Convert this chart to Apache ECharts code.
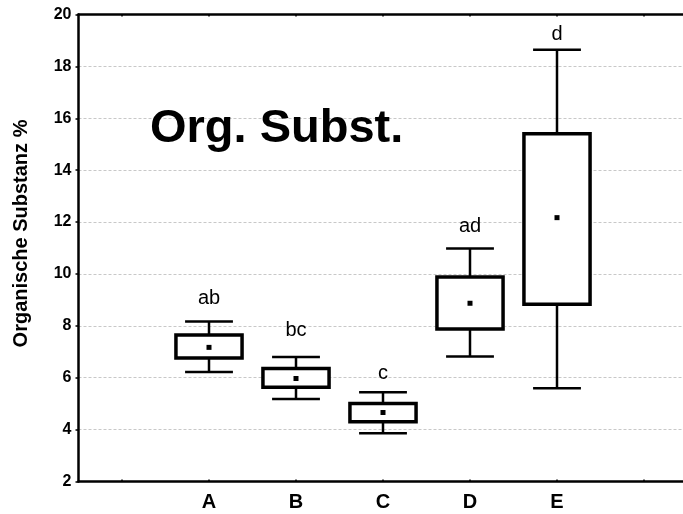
<!DOCTYPE html>
<html>
<head>
<meta charset="utf-8">
<title>Organische Substanz</title>
<script src="https://cdn.jsdelivr.net/npm/echarts@6/dist/echarts.min.js"></script>
<style>
  html, body { margin: 0; padding: 0; background: #fff; }
  #chart { width: 683px; height: 514px; }
</style>
</head>
<body>
<div id="chart"></div>
<script>
// Category slots on the x axis (empty slots pad both ends of the plot)
const categories = ['', 'A', 'B', 'C', 'D', 'E', ''];
// Groups and their statistics (Organische Substanz %)
const groups = ['A', 'B', 'C', 'D', 'E'];
const whiskerLow = [6.22, 5.18, 3.86, 6.82, 5.59];
const boxLow = [6.76, 5.63, 4.30, 7.88, 8.83];
const means = [7.17, 5.97, 4.66, 8.87, 12.17];
const boxHigh = [7.65, 6.36, 5.01, 9.88, 15.40];
const whiskerHigh = [8.17, 6.80, 5.44, 10.98, 18.64];
// Significance letters and the level their baseline sits at
const letters = ['ab', 'bc', 'c', 'ad', 'd'];
const letterAt = [8.77, 7.55, 5.88, 11.57, 18.96];
// Y axis ticks
const yMin = 2, yMax = 20, yStep = 2;

const FONT = '"Liberation Sans", Arial, Helvetica, sans-serif';

const seriesData = groups.map((g, i) => [g, whiskerLow[i], boxLow[i], means[i], boxHigh[i], whiskerHigh[i], letterAt[i]]);

function renderBox(params, api) {
  const i = params.dataIndex;
  const cat = api.value(0);
  const band = api.size([1, 0])[0];
  const boxW = band * 0.76;
  const capW = band * 0.55;
  const pLow = api.coord([cat, api.value(1)]);
  const pQ1 = api.coord([cat, api.value(2)]);
  const pMean = api.coord([cat, api.value(3)]);
  const pQ3 = api.coord([cat, api.value(4)]);
  const pHigh = api.coord([cat, api.value(5)]);
  const pLetter = api.coord([cat, api.value(6)]);
  const x = pQ1[0];
  const lineStyle = { stroke: '#000', lineWidth: 2.5, fill: null };
  return {
    type: 'group',
    children: [
      { type: 'line', shape: { x1: x, y1: pHigh[1], x2: x, y2: pQ3[1] }, style: lineStyle },
      { type: 'line', shape: { x1: x, y1: pQ1[1], x2: x, y2: pLow[1] }, style: lineStyle },
      { type: 'line', shape: { x1: x - capW / 2, y1: pHigh[1], x2: x + capW / 2, y2: pHigh[1] }, style: lineStyle },
      { type: 'line', shape: { x1: x - capW / 2, y1: pLow[1], x2: x + capW / 2, y2: pLow[1] }, style: lineStyle },
      {
        type: 'rect',
        shape: { x: x - boxW / 2, y: pQ3[1], width: boxW, height: pQ1[1] - pQ3[1] },
        style: { fill: '#fff', stroke: '#000', lineWidth: 3.5 }
      },
      {
        type: 'rect',
        shape: { x: x - 2.5, y: pMean[1] - 2.5, width: 5, height: 5 },
        style: { fill: '#000' }
      },
      {
        type: 'text',
        x: x,
        y: pLetter[1] + 3,
        style: {
          text: letters[i],
          fill: '#000',
          font: 'normal 20px ' + FONT,
          align: 'center',
          verticalAlign: 'bottom'
        }
      }
    ]
  };
}

const chart = echarts.init(document.getElementById('chart'), null, { renderer: 'canvas' });
chart.setOption({
  animation: false,
  backgroundColor: '#fff',
  // the plot runs a little past the right edge of the canvas
  grid: { left: 78.5, width: 609, top: 14.5, bottom: 32.5, containLabel: false, outerBoundsMode: 'none' },
  xAxis: [
    {
      type: 'category',
      data: categories,
      position: 'bottom',
      axisLine: { show: true, onZero: false, lineStyle: { color: '#000', width: 2.5 } },
      axisTick: { show: true, inside: true, length: 2, alignWithLabel: true, lineStyle: { color: '#000', width: 1.5 } },
      axisLabel: { color: '#000', fontFamily: FONT, fontWeight: 'bold', fontSize: 20, margin: 11 },
      splitLine: { show: false }
    },
    {
      type: 'category',
      data: categories,
      position: 'top',
      axisLine: { show: true, onZero: false, lineStyle: { color: '#000', width: 2.5 } },
      axisTick: { show: true, inside: true, length: 2, alignWithLabel: true, lineStyle: { color: '#000', width: 1.5 } },
      axisLabel: { show: false },
      splitLine: { show: false }
    }
  ],
  yAxis: {
    type: 'value',
    min: yMin,
    max: yMax,
    interval: yStep,
    axisLine: { show: true, onZero: false, lineStyle: { color: '#000', width: 2.5 } },
    axisTick: { show: true, inside: false, length: 3, lineStyle: { color: '#000', width: 1.5 } },
    axisLabel: { color: '#000', fontFamily: FONT, fontWeight: 'bold', fontSize: 16, margin: 7 },
    splitLine: { show: true, lineStyle: { color: '#c8c8c8', width: 1, type: [3, 2] } }
  },
  graphic: [
    {
      type: 'text',
      x: 21,
      y: 233.5,
      rotation: Math.PI / 2,
      style: {
        text: 'Organische Substanz %',
        fill: '#000',
        font: 'bold 20px ' + FONT,
        align: 'center',
        verticalAlign: 'middle'
      }
    },
    {
      type: 'text',
      x: 150,
      y: 129,
      z: 10,
      style: {
        text: 'Org. Subst.',
        fill: '#000',
        font: 'bold 47px ' + FONT,
        align: 'left',
        verticalAlign: 'middle'
      }
    }
  ],
  series: [
    {
      type: 'custom',
      xAxisIndex: 0,
      yAxisIndex: 0,
      renderItem: renderBox,
      data: seriesData,
      encode: { x: 0, y: [1, 2, 3, 4, 5] },
      clip: false,
      z: 5
    }
  ]
});
</script>
</body>
</html>
